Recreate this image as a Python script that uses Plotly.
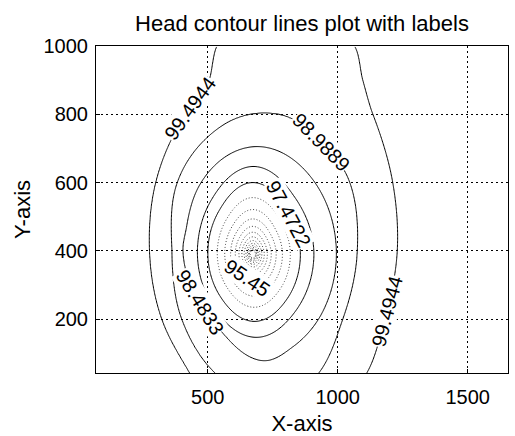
import numpy as np
import plotly.graph_objects as go

# Pumping well position (m)
WELL_X, WELL_Y = 673.0, 390.0

# Contour levels of the head (m): 19 evenly spaced values from 90.9 to 100
HEAD_MIN, HEAD_MAX, N_LEVELS = 90.9, 100.0, 19
STEP = (HEAD_MAX - HEAD_MIN) / (N_LEVELS - 1)

# Distance (m) from the well to each outer head contour, by direction (deg, 0 = +x)
ang_9949 = [1.0, 21.3, 41.6, 50.3, 57.3, 80.0, 102.7, 108.3, 122.2, 150.6, 178.6, 208.5, 235.1, 270.0, 321.6, 339.5]
rad_9949 = [556, 578, 618, 663, 725, 780, 625, 537, 484, 428, 397, 398, 424, 560, 560, 542]

ang_9899 = [1.4, 31.0, 51.0, 70.5, 84.6, 101.0, 113.4, 144.5, 178.2, 214.8, 247.2, 270.0, 290.0, 306.1, 331.2]
rad_9899 = [402, 429, 420, 424, 415, 401, 388, 358, 311, 333, 377, 420, 440, 431, 395]

ang_9848 = [1.75, 45.0, 88.7, 135.0, 162.3, 177.9, 214.5, 229.7, 244.6, 276.9, 300.0, 330.0]
rad_9848 = [322, 318, 315, 288, 267, 269, 247, 249, 259, 314, 312, 318]

ang_9798 = [2.4, 45.0, 90.0, 135.0, 177.3, 225.0, 274.0, 315.0]
rad_9798 = [235, 232, 257, 225, 213, 216, 244, 234]

ang_9747 = [3.0, 40.6, 90.0, 135.0, 176.7, 225.0, 272.0, 315.0]
rad_9747 = [183, 183, 210, 182, 173, 176, 197, 186]

OUTER_ANGLES = [ang_9949, ang_9899, ang_9848, ang_9798, ang_9747]
OUTER_RADII = [rad_9949, rad_9899, rad_9848, rad_9798, rad_9747]

# Head drop per unit log-distance inside the 97.4722 contour
INNER_SLOPE = 2.14

# Labelled contours: (level index counted down from 100, direction from the well in deg)
LABELS = [(1, 119.7), (2, 51.4), (5, 40.6), (9, 252.5), (3, 214.5), (1, 341.9)]

X_RANGE = [70, 1655]
Y_RANGE = [42, 1000]


def periodic_interp(ang, val, q):
    ang = np.asarray(ang, float)
    val = np.asarray(val, float)
    o = np.argsort(ang)
    a, v = ang[o], val[o]
    P = np.concatenate([a[-2:] - 360, a, a[:2] + 360])
    V = np.concatenate([v[-2:], v, v[:2]])
    m = np.zeros_like(V)
    m[1:-1] = (V[2:] - V[:-2]) / (P[2:] - P[:-2])
    q = np.mod(q, 360.0)
    i = np.clip(np.searchsorted(P, q, side='right') - 1, 1, len(P) - 3)
    h = P[i + 1] - P[i]
    t = (q - P[i]) / h
    h00 = 2 * t**3 - 3 * t**2 + 1
    h10 = t**3 - 2 * t**2 + t
    h01 = -2 * t**3 + 3 * t**2
    h11 = t**3 - t**2
    return h00 * V[i] + h10 * h * m[i] + h01 * V[i + 1] + h11 * h * m[i + 1]


def outer_log_radii(phi):
    lr = [periodic_interp(a, np.log(r), phi) for a, r in zip(OUTER_ANGLES, OUTER_RADII)]
    for k in range(1, len(lr)):
        lr[k] = np.minimum(lr[k], lr[k - 1] - 0.03)
    return lr


drops = [k * STEP for k in range(1, 6)]


def drawdown(x, y):
    dx = x - WELL_X
    dy = y - WELL_Y
    r = np.maximum(np.hypot(dx, dy), 1e-6)
    phi = np.degrees(np.arctan2(dy, dx))
    lnr = np.log(r)
    LR = outer_log_radii(phi)
    s = drops[0] * np.exp(-3 * (lnr - LR[0]))
    for k in range(4):
        band = (lnr <= LR[k]) & (lnr > LR[k + 1])
        frac = (LR[k] - lnr) / (LR[k] - LR[k + 1])
        s = np.where(band, drops[k] + (drops[k + 1] - drops[k]) * frac, s)
    inner = lnr <= LR[4]
    s = np.where(inner, drops[4] + INNER_SLOPE * (LR[4] - lnr), s)
    return np.minimum(s, HEAD_MAX - HEAD_MIN)


def contour_point(k, phi):
    LR = outer_log_radii(np.array([phi]))
    if k <= 5:
        lr = LR[k - 1][0]
    else:
        lr = LR[4][0] - (k * STEP - drops[4]) / INNER_SLOPE
    r = np.exp(lr)
    return WELL_X + r * np.cos(np.radians(phi)), WELL_Y + r * np.sin(np.radians(phi))


x = np.arange(X_RANGE[0], X_RANGE[1] + 1, 4.0)
y = np.arange(Y_RANGE[0], Y_RANGE[1] + 1, 4.0)
XX, YY = np.meshgrid(x, y)
head = HEAD_MAX - drawdown(XX, YY)

fig = go.Figure()
# inner, densely packed contours
fig.add_trace(go.Contour(
    x=x, y=y, z=head, showscale=False, hoverinfo='skip',
    contours=dict(start=HEAD_MAX - 17 * STEP, end=HEAD_MAX - 6 * STEP + 1e-9, size=STEP, coloring='none'),
    line=dict(color='#444444', width=1, dash='1px,2px', smoothing=1)))
# outer contours
fig.add_trace(go.Contour(
    x=x, y=y, z=head, showscale=False, hoverinfo='skip',
    contours=dict(start=HEAD_MAX - 5 * STEP, end=HEAD_MAX - STEP + 1e-9, size=STEP, coloring='none'),
    line=dict(color='black', width=1, smoothing=1)))

# plot-area size in px, to orient labels along the lines on screen
PW, PH = 412.0, 327.0
sx = PW / (X_RANGE[1] - X_RANGE[0])
sy = PH / (Y_RANGE[1] - Y_RANGE[0])
for k, phi in LABELS:
    lx, ly = contour_point(k, phi)
    ax_, ay_ = contour_point(k, phi - 1.0)
    bx_, by_ = contour_point(k, phi + 1.0)
    tx = (bx_ - ax_) * sx
    ty = -(by_ - ay_) * sy
    ang = np.degrees(np.arctan2(ty, tx))
    if ang > 90:
        ang -= 180
    elif ang <= -90:
        ang += 180
    level = HEAD_MAX - k * STEP
    fig.add_annotation(x=lx, y=ly, text=f"{level:.6g}", showarrow=False, textangle=float(ang),
                       font=dict(size=20, color='black', family='Liberation Sans, Arial, sans-serif'),
                       bgcolor='white', borderpad=0, xanchor='center', yanchor='middle')

font = dict(family='Liberation Sans, Arial, sans-serif', color='black')
fig.update_layout(
    width=515, height=436,
    margin=dict(l=96, r=7, t=46, b=63),
    paper_bgcolor='white', plot_bgcolor='white',
    showlegend=False,
    font=font,
    title=dict(text='Head contour lines plot with labels', font=dict(size=22, **font),
               x=0.5, xref='paper', xanchor='center', y=1 - 23 / 436, yanchor='middle'),
)
axis_common = dict(showline=True, mirror=True, linecolor='black', linewidth=1,
                   showgrid=True, gridcolor='black', gridwidth=1, griddash='2px,3px',
                   zeroline=False, ticks='inside', ticklen=4, tickcolor='black',
                   tickfont=dict(size=20, **font), automargin=False)
fig.update_xaxes(range=X_RANGE, tickvals=[500, 1000, 1500], ticklabelstandoff=6,
                 title=dict(text='X-axis', font=dict(size=22, **font), standoff=8), **axis_common)
fig.update_yaxes(range=Y_RANGE, tickvals=[200, 400, 600, 800, 1000], ticklabelstandoff=3,
                 title=dict(text='Y-axis', font=dict(size=22, **font), standoff=6), **axis_common)
fig.write_html("out.html")
